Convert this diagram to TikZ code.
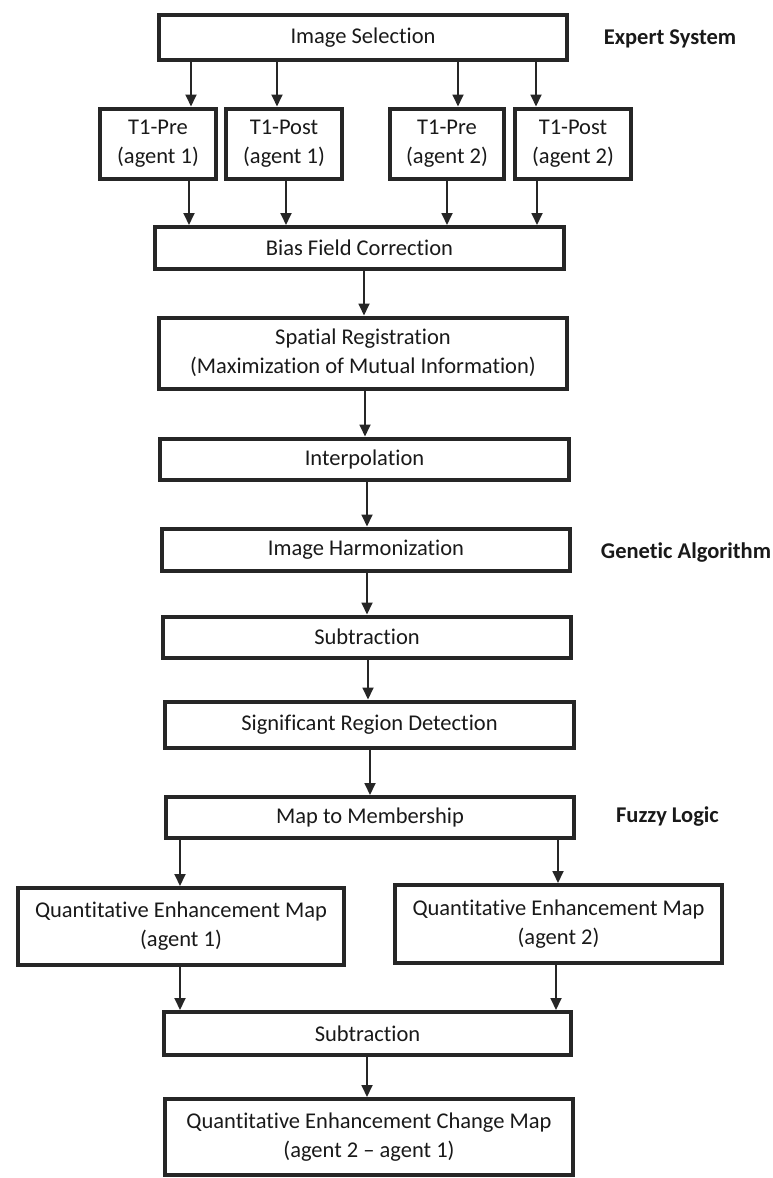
\documentclass[tikz,border=0pt]{standalone}
\usepackage{fontspec}
\setmainfont{Carlito}[Ligatures={TeX,NoCommon}]
\usetikzlibrary{arrows.meta}
\begin{document}
\begin{tikzpicture}[x=1pt,y=-1pt,
  box/.style={draw=black!85, line width=4pt, inner sep=0pt, align=center,
    font=\fontsize{22.5pt}{29pt}\selectfont, text=black!90},
  arr/.style={draw=black!85, line width=1.8pt, -{Triangle[length=12pt,width=11pt]}},
  lbl/.style={font=\fontsize{22.5pt}{29pt}\selectfont\bfseries, text=black!90}]
\useasboundingbox (0,0) rectangle (772,1178);

% boxes
\node[box, minimum width=408pt, minimum height=45pt] (sel) at (363,37.5) {Image Selection};
\node[box, minimum width=116pt, minimum height=70pt] (t1a) at (158,143.5) {T1-Pre\\(agent 1)};
\node[box, minimum width=116pt, minimum height=70pt] (t1b) at (284,143.5) {T1-Post\\(agent 1)};
\node[box, minimum width=114pt, minimum height=70pt] (t2a) at (447,143.5) {T1-Pre\\(agent 2)};
\node[box, minimum width=116pt, minimum height=70pt] (t2b) at (573,143.5) {T1-Post\\(agent 2)};
\node[box, minimum width=409pt, minimum height=42pt] (bias) at (359.5,248) {Bias Field Correction};
\node[box, minimum width=408pt, minimum height=71pt] (spat) at (363,353) {Spatial Registration\\(Maximization of Mutual Information)};
\node[box, minimum width=409pt, minimum height=41.5pt] (interp) at (364.5,459.25) {Interpolation};
\node[box, minimum width=408pt, minimum height=42pt] (harm) at (366,549.5) {Image Harmonization};
\node[box, minimum width=408pt, minimum height=41pt] (sub1) at (367,637) {Subtraction};
\node[box, minimum width=409pt, minimum height=46.5pt] (sig) at (369.5,724.75) {Significant Region Detection};
\node[box, minimum width=408pt, minimum height=41pt] (map) at (370,817.5) {Map to Membership};
\node[box, minimum width=326pt, minimum height=77pt] (qem1) at (181,926.5) {Quantitative Enhancement Map\\(agent 1)};
\node[box, minimum width=327pt, minimum height=78pt] (qem2) at (558.5,924) {Quantitative Enhancement Map\\(agent 2)};
\node[box, minimum width=407pt, minimum height=43pt] (sub2) at (367.5,1033.5) {Subtraction};
\node[box, minimum width=408pt, minimum height=76pt] (qemc) at (369,1137) {Quantitative Enhancement Change Map\\(agent 2 -- agent 1)};

% side labels
\node[lbl] (es) at (670,39) {Expert System};
\node[lbl] (ga) at (686,553) {Genetic Algorithm};
\node[lbl] (fl) at (667.5,817) {Fuzzy Logic};

% arrow x positions
\coordinate (a1) at (191,0);
\coordinate (a2) at (277,0);
\coordinate (a3) at (458,0);
\coordinate (a4) at (536,0);
\coordinate (b1) at (189,0);
\coordinate (b2) at (286,0);
\coordinate (b3) at (447,0);
\coordinate (b4) at (537,0);
\coordinate (c1) at (364,0);
\coordinate (c2) at (365,0);
\coordinate (c3) at (367,0);
\coordinate (c4) at (368,0);
\coordinate (c5) at (370,0);
\coordinate (l1) at (180,0);
\coordinate (r1) at (558,0);
\coordinate (r2) at (556,0);

\draw[arr] (sel.south -| a1) -- (t1a.north -| a1);
\draw[arr] (sel.south -| a2) -- (t1b.north -| a2);
\draw[arr] (sel.south -| a3) -- (t2a.north -| a3);
\draw[arr] (sel.south -| a4) -- (t2b.north -| a4);
\draw[arr] (t1a.south -| b1) -- (bias.north -| b1);
\draw[arr] (t1b.south -| b2) -- (bias.north -| b2);
\draw[arr] (t2a.south -| b3) -- (bias.north -| b3);
\draw[arr] (t2b.south -| b4) -- (bias.north -| b4);
\draw[arr] (bias.south -| c1) -- (spat.north -| c1);
\draw[arr] (spat.south -| c2) -- (interp.north -| c2);
\draw[arr] (interp.south -| c3) -- (harm.north -| c3);
\draw[arr] (harm.south -| c3) -- (sub1.north -| c3);
\draw[arr] (sub1.south -| c4) -- (sig.north -| c4);
\draw[arr] (sig.south -| c5) -- (map.north -| c5);
\draw[arr] (map.south -| l1) -- (qem1.north -| l1);
\draw[arr] (map.south -| r1) -- (qem2.north -| r1);
\draw[arr] (qem1.south -| l1) -- (sub2.north -| l1);
\draw[arr] (qem2.south -| r2) -- (sub2.north -| r2);
\draw[arr] (sub2.south -| c3) -- (qemc.north -| c3);
\end{tikzpicture}
\end{document}
